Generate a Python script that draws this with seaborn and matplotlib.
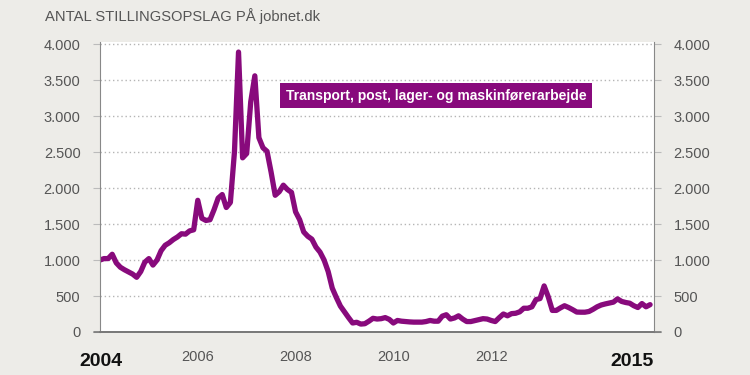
import numpy as np
import pandas as pd
import seaborn as sns
import matplotlib.pyplot as plt

# monthly values, Jan 2004 - Apr 2015
stillinger = [
    1000, 1020, 1020, 1080, 960, 900, 865, 835, 805, 760, 840, 970,
    1020, 930, 1000, 1130, 1205, 1240, 1285, 1320, 1365, 1360, 1405, 1420,
    1830, 1580, 1550, 1560, 1700, 1860, 1910, 1730, 1800, 2500, 3890, 2420,
    2480, 3200, 3560, 2700, 2560, 2510, 2220, 1900, 1950, 2040, 1980, 1940,
    1670, 1560, 1390, 1330, 1290, 1180, 1110, 1000, 840, 610, 480, 360,
    280, 200, 125, 135, 110, 115, 150, 190, 180, 185, 200, 175,
    125, 160, 150, 145, 140, 137, 137, 137, 145, 160, 150, 150,
    220, 240, 180, 195, 225, 180, 145, 145, 158, 170, 185, 180,
    160, 145, 200, 250, 225, 255, 260, 280, 330, 330, 350, 450,
    465, 640, 490, 300, 300, 335, 365, 340, 310, 277, 275, 275,
    285, 315, 350, 375, 390, 402, 415, 460, 425, 410, 400, 365,
    340, 395, 350, 380,
]
tid = 2004 + np.arange(len(stillinger)) / 12

aar_ticks = list(range(2004, 2016))
aar_labels = ['', '', '2006', '', '2008', '', '2010', '', '2012', '', '', '']
y_ticks = [0, 500, 1000, 1500, 2000, 2500, 3000, 3500, 4000]
y_labels = ['0', '500', '1.000', '1.500', '2.000', '2.500', '3.000', '3.500', '4.000']

df = pd.DataFrame({'tid': tid, 'antal': stillinger})

lilla = '#880a7c'
graa = '#555555'
bg = '#edece8'

sns.set_style('white')
plt.rcParams['font.family'] = ['Liberation Sans', 'DejaVu Sans']

fig = plt.figure(figsize=(7.5, 3.75), dpi=100, facecolor=bg)
ax = fig.add_axes([0.1333, 0.1147, 0.7387, 0.7733])
ax.set_facecolor('white')

sns.lineplot(data=df, x='tid', y='antal', ax=ax, color=lilla, lw=3.8)

ax.set_xlim(2004, 2015.33)
ax.set_ylim(0, 4030)
ax.set_xlabel('')
ax.set_ylabel('')

ax.set_xticks(aar_ticks)
ax.set_xticklabels(aar_labels)
ax.set_yticks(y_ticks)
ax.set_yticklabels(y_labels)

for y in y_ticks[1:]:
    ax.axhline(y, color='#b5b5b5', lw=1, ls=(0, (1, 2)), zorder=0)

ax.tick_params(axis='x', direction='out', length=7, width=1, color='#777',
               labelsize=10.5, labelcolor=graa, pad=6)
ax.tick_params(axis='y', direction='out', length=5, width=0.8, color='#bbb',
               labelsize=10.5, labelcolor=graa, left=True, right=True,
               labelleft=True, labelright=True, pad=9)

ax.spines['top'].set_visible(False)
ax.spines['left'].set_color('#888')
ax.spines['right'].set_color('#888')
ax.spines['bottom'].set_color('#777')
ax.spines['bottom'].set_linewidth(1.2)
ax.axhline(0, xmin=-0.01, xmax=1.012, color='#777', lw=1.2, clip_on=False)

fig.text(0.06, 0.958, 'ANTAL STILLINGSOPSLAG PÅ jobnet.dk', fontsize=10.6,
         color=graa, va='center', ha='left')

fig.text(0.135, 0.037, '2004', fontsize=14, fontweight='bold', color='#111',
         ha='center', va='center')
fig.text(0.871, 0.037, '2015', fontsize=14, fontweight='bold', color='#111',
         ha='right', va='center')

ax.text(0.607, 0.814, 'Transport, post, lager- og maskinførerarbejde',
        transform=ax.transAxes, ha='center', va='center', fontsize=10,
        fontweight='bold', color='white',
        bbox=dict(boxstyle='square,pad=0.4', fc=lilla, ec='none'))

fig.savefig('out.png', dpi=100, facecolor=bg)
